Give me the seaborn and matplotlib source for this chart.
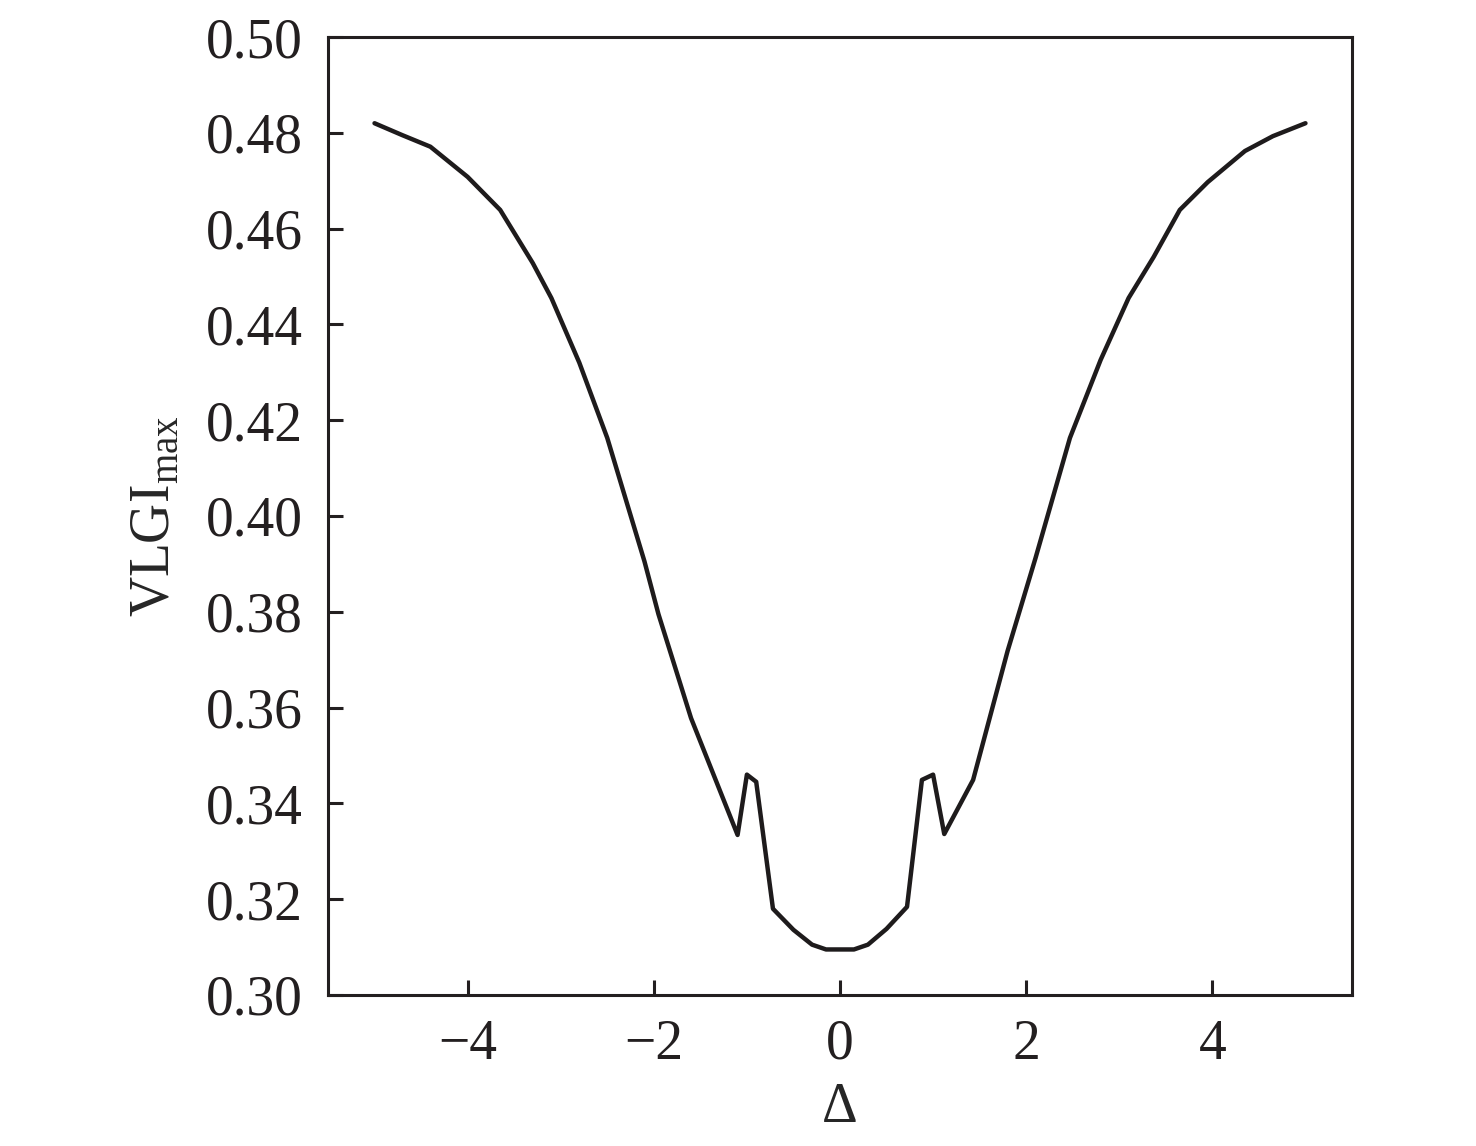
import matplotlib
matplotlib.use("Agg")
import matplotlib.pyplot as plt
import seaborn as sns
import pandas as pd

# Detuning values and the maximum VLGI
delta = [-5.0, -4.7, -4.4, -4.0, -3.65, -3.3, -3.1, -2.8, -2.5, -2.1, -1.95, -1.6,
         -1.1, -1.0, -0.9, -0.72, -0.5, -0.3, -0.15, 0.0, 0.15, 0.3, 0.5, 0.72,
         0.88, 1.0, 1.12, 1.43, 1.8, 2.1, 2.47, 2.8, 3.1, 3.37, 3.65, 3.95, 4.35,
         4.65, 5.0]
vlgi_max = [0.482, 0.4795, 0.4771, 0.4708, 0.4639, 0.4528, 0.4455, 0.432, 0.4163,
            0.3905, 0.3795, 0.3578, 0.3334, 0.346, 0.3445, 0.318, 0.3136, 0.3105,
            0.3095, 0.3095, 0.3095, 0.3105, 0.3138, 0.3184, 0.3449, 0.346, 0.3336,
            0.3449, 0.3718, 0.3912, 0.4163, 0.4326, 0.4455, 0.4541, 0.4639, 0.4697,
            0.4762, 0.4793, 0.482]

x_ticks = [-4, -2, 0, 2, 4]
y_ticks = [0.30, 0.32, 0.34, 0.36, 0.38, 0.40, 0.42, 0.44, 0.46, 0.48, 0.50]

sns.set_style("ticks")
plt.rcParams["font.family"] = ["Liberation Serif", "DejaVu Serif"]
plt.rcParams["mathtext.fontset"] = "custom"
plt.rcParams["mathtext.rm"] = "Liberation Serif"
plt.rcParams["axes.unicode_minus"] = True

df = pd.DataFrame({"delta": delta, "vlgi": vlgi_max})

fig = plt.figure(figsize=(14.76, 11.46), dpi=100)
ax = fig.add_axes([0.2222, 0.1318, 0.6938, 0.8359])

sns.lineplot(data=df, x="delta", y="vlgi", ax=ax, color="#1e1b1c", linewidth=3.2)

ax.set_xlim(-5.5, 5.5)
ax.set_ylim(0.30, 0.50)
ax.set_xticks(x_ticks)
ax.set_yticks(y_ticks)
ax.set_yticklabels([f"{v:.2f}" for v in y_ticks])

for side in ["top", "right", "left", "bottom"]:
    ax.spines[side].set_visible(True)
    ax.spines[side].set_linewidth(2.2)
    ax.spines[side].set_color("#231f20")

ax.tick_params(direction="in", length=11, width=2.2, labelsize=40, colors="#231f20",
               top=False, right=False)
ax.tick_params(axis="y", pad=18)
ax.tick_params(axis="x", pad=17)

ax.set_xlabel("Δ", fontsize=40, labelpad=8)
ax.set_ylabel(r"VLGI$_{\rm max}$", fontsize=40, labelpad=14)
ax.yaxis.set_label_coords(-0.1435, 0.5)

fig.savefig("out.png", dpi=100, facecolor="white")
